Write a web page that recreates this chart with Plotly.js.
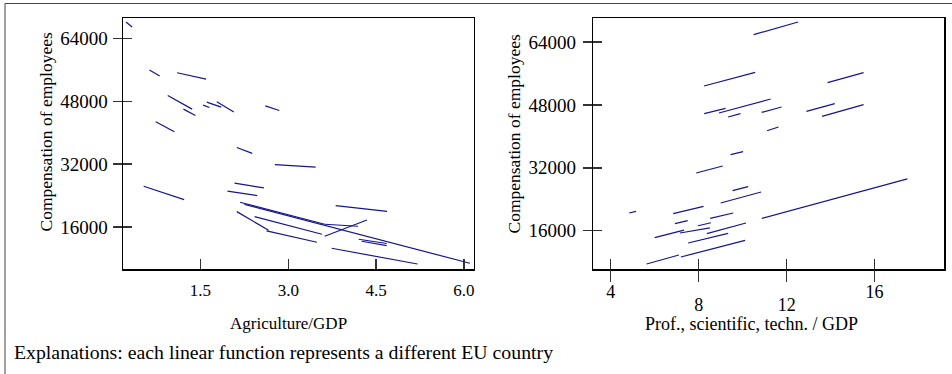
<!DOCTYPE html>
<html>
<head>
<meta charset="utf-8">
<script src="https://cdn.plot.ly/plotly-3.0.1.min.js"></script>
<style>html,body{margin:0;padding:0;background:#fff;}#chart{width:952px;height:374px;}</style>
</head>
<body>
<div id="chart"></div>
<script>
// Left panel: Agriculture/GDP vs Compensation of employees (segment endpoints)
const leftX0 = [0.229,0.628,1.101,0.941,1.209,1.546,1.608,1.779,2.607,0.735,2.121,2.771,0.530,2.082,1.962,2.176,3.621,2.253,2.424,2.121,2.629,3.809,3.621,4.202,4.254,3.741];
const leftX1 = [0.332,0.804,1.597,1.358,1.414,1.654,1.854,2.070,2.846,1.055,2.384,3.467,1.221,2.583,2.470,3.621,4.190,6.101,3.575,2.663,3.489,4.687,4.343,4.681,4.681,5.206];
const leftY0 = [68264,56009,55320,49525,46053,47074,47840,47916,46895,42810,36249,31910,26395,27160,25118,22309,16693,21748,18634,19910,14982,21442,13629,12863,12353,10566];
const leftY1 = [66987,54477,53711,46053,44418,46461,46563,45287,45695,40257,34776,31245,22973,25960,23994,16693,16182,6736,14141,15161,12096,19970,17791,11791,11238,6557];

// Right panel: Prof., scientific, techn. / GDP vs Compensation of employees
const rightX0 = [10.50,8.24,13.86,8.25,8.92,9.34,10.86,12.90,13.61,11.11,9.45,7.89,9.54,9.00,4.84,6.84,8.52,10.87,6.92,7.15,7.97,6.00,8.37,7.52,7.19,5.63];
const rightX1 = [12.52,10.57,15.50,9.22,11.27,9.90,11.77,14.19,15.50,11.63,10.02,9.09,10.25,10.84,5.15,8.22,9.57,17.49,7.50,8.51,8.56,7.33,10.15,9.34,10.11,7.10];
const rightY0 = [65857,52806,53646,45760,45938,44920,46090,46345,45073,41435,35329,30674,26171,23042,20498,20321,19124,19124,17775,15410,17265,14213,15232,12866,9304,7523];
const rightY1 = [69088,56266,56190,47108,49499,45760,47464,48303,48049,42376,36108,32454,27189,25840,20905,22192,20498,29185,18538,16697,18028,16147,17954,15322,13529,9813];

const leftTickVals = [1.5, 3.0, 4.5, 6.0];
const leftTickText = ['1.5', '3.0', '4.5', '6.0'];
const rightTickVals = [4, 8, 12, 16];
const yTickVals = [16000, 32000, 48000, 64000];
const yTickText = ['16000', '32000', '48000', '64000'];

function segs(x0, x1, y0, y1) {
  const xs = [], ys = [];
  for (let i = 0; i < x0.length; i++) {
    xs.push(x0[i], x1[i], null);
    ys.push(y0[i], y1[i], null);
  }
  return {xs, ys};
}

const L = segs(leftX0, leftX1, leftY0, leftY1);
const R = segs(rightX0, rightX1, rightY0, rightY1);
const lineColor = '#15158f';
const FONT = 'Liberation Serif, Times New Roman, serif';

const traces = [
  {x: L.xs, y: L.ys, xaxis: 'x', yaxis: 'y', mode: 'lines', line: {color: lineColor, width: 1.2}, hoverinfo: 'skip'},
  {x: R.xs, y: R.ys, xaxis: 'x2', yaxis: 'y2', mode: 'lines', line: {color: lineColor, width: 1.2}, hoverinfo: 'skip'},
  {x: [], y: [], xaxis: 'x', yaxis: 'y3', mode: 'lines', hoverinfo: 'skip'},
  {x: [], y: [], xaxis: 'x2', yaxis: 'y4', mode: 'lines', hoverinfo: 'skip'},
  {x: [], y: [], xaxis: 'x3', yaxis: 'y2', mode: 'lines', hoverinfo: 'skip'},
  {x: [], y: [], xaxis: 'x4', yaxis: 'y2', mode: 'lines', hoverinfo: 'skip'}
];

const leftXRange = [0.177, 6.171];
const leftYRange = [5281, 69285];
const rightXRange = [3.205, 19.158];
const rightYRange = [6251, 70106];

const tickCol = '#333';
const base = {showgrid: false, zeroline: false, fixedrange: true};

// pixel helpers for paper-positioned text (plot area: x 123..944, y 18..269)
const PL = 123, PW = 821, PT = 18, PH = 251;
const px = v => (v - PL) / PW;
const py = v => (PT + PH - v) / PH;

const layout = {
  width: 952, height: 374,
  margin: {l: PL, r: 952 - PL - PW, t: PT, b: 374 - PT - PH},
  paper_bgcolor: '#fff', plot_bgcolor: '#fff',
  showlegend: false,
  font: {family: FONT, color: '#000'},
  xaxis: Object.assign({}, base, {
    domain: [0, 0.4275], range: leftXRange, anchor: 'y',
    tickmode: 'array', tickvals: leftTickVals, ticktext: leftTickText,
    ticks: 'inside', ticklen: 10, tickwidth: 1.5, tickcolor: tickCol,
    tickfont: {size: 17, family: FONT}, ticklabelstandoff: 5,
    showline: true, mirror: true, linecolor: '#000', linewidth: 1.5
  }),
  yaxis: Object.assign({}, base, {
    domain: [0, 1], range: leftYRange, anchor: 'x',
    tickmode: 'array', tickvals: yTickVals, ticktext: yTickText,
    ticks: 'outside', ticklen: 9, tickwidth: 1.5, tickcolor: tickCol,
    tickfont: {size: 19, family: FONT}, ticklabelstandoff: 1,
    showline: true, mirror: true, linecolor: '#000', linewidth: 1.5
  }),
  yaxis3: Object.assign({}, base, {
    overlaying: 'y', anchor: 'x', side: 'left', range: leftYRange,
    tickmode: 'array', tickvals: yTickVals, ticks: 'inside', ticklen: 9,
    tickwidth: 1.5, tickcolor: tickCol, showticklabels: false, showline: false
  }),
  xaxis2: Object.assign({}, base, {
    domain: [0.5728, 1], range: rightXRange, anchor: 'y2',
    tickmode: 'array', tickvals: rightTickVals,
    ticks: 'inside', ticklen: 10, tickwidth: 1.5, tickcolor: tickCol,
    showticklabels: false,
    showline: true, mirror: true, linecolor: '#000', linewidth: 1.5
  }),
  xaxis3: Object.assign({}, base, {
    overlaying: 'x2', anchor: 'y2', side: 'bottom', range: rightXRange,
    tickmode: 'array', tickvals: rightTickVals, ticktext: ['4', '', '', '16'],
    ticks: 'outside', ticklen: 12, tickwidth: 1.5, tickcolor: tickCol,
    tickfont: {size: 18, family: FONT}, ticklabelstandoff: -6, showline: false
  }),
  xaxis4: Object.assign({}, base, {
    overlaying: 'x2', anchor: 'y2', side: 'bottom', range: rightXRange,
    tickmode: 'array', tickvals: [8, 12], ticktext: ['8', '12'],
    ticks: '', tickfont: {size: 18, family: FONT}, ticklabelstandoff: 23, showline: false
  }),
  yaxis2: Object.assign({}, base, {
    domain: [0, 1], range: rightYRange, anchor: 'x2',
    tickmode: 'array', tickvals: yTickVals, ticktext: yTickText,
    ticks: 'outside', ticklen: 9, tickwidth: 1.5, tickcolor: tickCol,
    tickfont: {size: 19, family: FONT}, ticklabelstandoff: 3,
    showline: true, mirror: true, linecolor: '#000', linewidth: 1.5
  }),
  yaxis4: Object.assign({}, base, {
    overlaying: 'y2', anchor: 'x2', side: 'left', range: rightYRange,
    tickmode: 'array', tickvals: yTickVals, ticks: 'inside', ticklen: 9,
    tickwidth: 1.5, tickcolor: tickCol, showticklabels: false, showline: false
  }),
  shapes: [
    {type: 'rect', xref: 'paper', yref: 'paper', x0: px(5), x1: px(960), y0: py(382), y1: py(3.5),
     line: {color: '#444', width: 1}, fillcolor: 'rgba(0,0,0,0)', layer: 'below'}
  ],
  annotations: [
    {xref: 'paper', yref: 'paper', x: px(45), y: py(132.5), xanchor: 'center', yanchor: 'middle',
     textangle: -90, showarrow: false, text: 'Compensation of employees',
     font: {size: 17.5, family: FONT, color: '#000'}},
    {xref: 'paper', yref: 'paper', x: px(513.5), y: py(134), xanchor: 'center', yanchor: 'middle',
     textangle: -90, showarrow: false, text: 'Compensation of employees',
     font: {size: 17.5, family: FONT, color: '#000'}},
    {xref: 'paper', yref: 'paper', x: px(288.5), y: py(323), xanchor: 'center', yanchor: 'middle',
     showarrow: false, text: 'Agriculture/GDP',
     font: {size: 17, family: FONT, color: '#000'}},
    {xref: 'paper', yref: 'paper', x: px(751.5), y: py(324), xanchor: 'center', yanchor: 'middle',
     showarrow: false, text: 'Prof., scientific, techn. / GDP',
     font: {size: 18, family: FONT, color: '#000'}},
    {xref: 'paper', yref: 'paper', x: px(11.5), y: py(352), xanchor: 'left', yanchor: 'middle',
     showarrow: false, text: 'Explanations: each linear function represents a different EU country',
     font: {size: 19.8, family: FONT, color: '#000'}}
  ]
};

Plotly.newPlot('chart', traces, layout, {staticPlot: true, displayModeBar: false});
</script>
</body>
</html>
